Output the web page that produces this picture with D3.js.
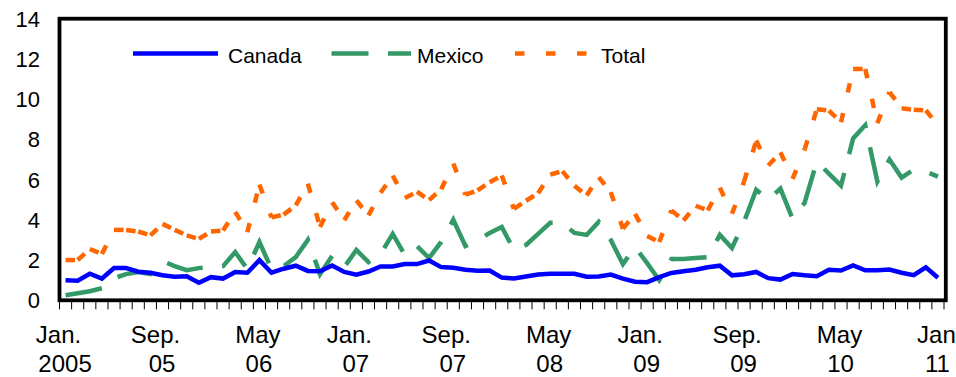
<!DOCTYPE html>
<html>
<head>
<meta charset="utf-8">
<script src="https://cdn.jsdelivr.net/npm/d3@7/dist/d3.min.js"></script>
<style>
  body { margin: 0; background: #fff; }
  svg text { font-family: "Liberation Sans", Arial, sans-serif; fill: #000; }
</style>
</head>
<body>
<div id="chart"></div>
<script>
////////////////////////////////////////////////////////////////////////
// Data: monthly values, Jan. 2005 to Jan. 2011 (73 months)

let months = d3.timeMonth.range(new Date(2005, 0, 1), new Date(2011, 1, 1));

let canada = [1.0, 0.97, 1.32, 1.08, 1.6, 1.6, 1.42, 1.37, 1.25, 1.17,
  1.19, 0.87, 1.15, 1.08, 1.41, 1.37, 2.0, 1.37, 1.57, 1.72,
  1.46, 1.44, 1.73, 1.41, 1.27, 1.43, 1.68, 1.68, 1.8, 1.8,
  1.98, 1.65, 1.62, 1.52, 1.47, 1.48, 1.13, 1.08, 1.18, 1.28,
  1.32, 1.32, 1.32, 1.17, 1.18, 1.28, 1.08, 0.92, 0.9, 1.15,
  1.36, 1.44, 1.52, 1.64, 1.72, 1.24, 1.3, 1.41, 1.1, 1.03,
  1.31, 1.24, 1.2, 1.52, 1.48, 1.73, 1.49, 1.49, 1.53, 1.37,
  1.25, 1.64, 1.12];

let mexico = [0.25, 0.35, 0.45, 0.6, 1.1, 1.3, 1.4, 1.3, 1.95, 1.7,
  1.5, 1.6, 1.65, 1.7, 2.4, 1.55, 2.9, 1.55, 1.7, 2.15,
  3.0, 1.3, 2.2, 1.65, 2.5, 1.9, 2.3, 3.3, 2.25, 2.7,
  2.1, 2.9, 4.0, 2.7, 2.95, 3.35, 3.65, 2.5, 2.75, 3.3,
  3.85, 3.85, 3.35, 3.25, 3.9, 3.0, 1.8, 2.65, 1.85, 1.0,
  2.05, 2.05, 2.1, 2.15, 3.25, 2.6, 3.9, 5.5, 5.0, 5.55,
  4.05, 4.85, 6.9, 6.3, 5.7, 8.05, 8.7, 5.9, 7.0, 6.1,
  6.5, 6.4, 6.15];

let total = [2.0, 2.0, 2.55, 2.3, 3.5, 3.5, 3.42, 3.23, 3.8, 3.5,
  3.23, 3.05, 3.42, 3.47, 4.4, 3.38, 5.75, 4.12, 4.26, 4.72,
  5.8, 3.64, 4.88, 3.98, 4.97, 4.22, 5.35, 6.2, 5.08, 5.4,
  4.98, 5.52, 6.8, 5.25, 5.46, 5.87, 6.2, 4.55, 4.95, 5.32,
  6.25, 6.42, 5.7, 5.21, 6.12, 5.38, 3.56, 4.3, 3.2, 2.9,
  4.47, 3.97, 4.7, 4.47, 5.6, 4.3, 5.9, 7.94, 6.7, 7.36,
  6.04, 7.5, 9.5, 9.43, 8.85, 11.5, 11.5, 8.8, 10.35, 9.55,
  9.47, 9.45, 8.7];

// x labels, one every 8 months (two lines each)
let tickLabels = [["Jan.", "2005"], ["Sep.", "05"], ["May", "06"], ["Jan.", "07"],
  ["Sep.", "07"], ["May", "08"], ["Jan.", "09"], ["Sep.", "09"], ["May", "10"], ["Jan", "11"]];
let yTicks = [0, 2, 4, 6, 8, 10, 12, 14];

let seriesNames = ["Canada", "Mexico", "Total"];

////////////////////////////////////////////////////////////////////////
// Layout

let width = 956, height = 377;
let plotLeft = 59.5, plotRight = 944, plotTop = 18.7, plotBottom = 300.3;

let svg = d3.select("#chart")
  .append("svg")
  .attr("width", width)
  .attr("height", height);

let xScale = d3.scalePoint()
  .domain(months)
  .range([plotLeft, plotRight])
  .padding(0.5);

let yScale = d3.scaleLinear()
  .domain([0, 14])
  .range([plotBottom, plotTop]);

let step = xScale.step();

// y labels (no tick marks)
svg.append("g")
  .attr("class", "y-labels")
  .selectAll("text")
  .data(yTicks)
  .enter()
  .append("text")
  .attr("x", 40)
  .attr("y", d => yScale(d))
  .attr("dy", "0.36em")
  .attr("text-anchor", "end")
  .style("font-size", "22px")
  .text(d => d);

// minor ticks at every month boundary
svg.append("g")
  .attr("class", "x-ticks")
  .selectAll("line")
  .data(d3.range(months.length + 1))
  .enter()
  .append("line")
  .attr("x1", i => plotLeft + i * step)
  .attr("x2", i => plotLeft + i * step)
  .attr("y1", plotBottom)
  .attr("y2", plotBottom + 9)
  .attr("stroke", "#000")
  .attr("stroke-width", 1);

// x labels
let xl = svg.append("g")
  .attr("class", "x-labels")
  .selectAll("text")
  .data(tickLabels)
  .enter()
  .append("text")
  .attr("text-anchor", "middle")
  .style("font-size", "24px");

xl.append("tspan")
  .attr("x", (d, i) => xScale(months[i * 8]) - (d[0].endsWith(".") ? 7 : 1.5))
  .attr("y", 343)
  .text(d => d[0]);

xl.append("tspan")
  .attr("x", (d, i) => xScale(months[i * 8]) - 0.5)
  .attr("y", 371.5)
  .text(d => d[1]);

////////////////////////////////////////////////////////////////////////
// Series

let line = d3.line()
  .x((d, i) => xScale(months[i]))
  .y(d => yScale(d));

// Total: short dash restarting at every point
svg.append("g")
  .attr("class", "total")
  .selectAll("line")
  .data(d3.pairs(total))
  .enter()
  .append("line")
  .attr("x1", (d, i) => xScale(months[i]))
  .attr("y1", d => yScale(d[0]))
  .attr("x2", (d, i) => xScale(months[i + 1]))
  .attr("y2", d => yScale(d[1]))
  .attr("stroke", "#ff6600")
  .attr("stroke-width", 4.5)
  .attr("stroke-dasharray", "9.5,21");

svg.append("path")
  .datum(mexico)
  .attr("d", line)
  .attr("fill", "none")
  .attr("stroke", "#339966")
  .attr("stroke-width", 4.5)
  .attr("stroke-dasharray", "37,19.5");

svg.append("path")
  .datum(canada)
  .attr("d", line)
  .attr("fill", "none")
  .attr("stroke", "#0000ff")
  .attr("stroke-width", 4.5);

// plot frame
svg.append("rect")
  .attr("x", plotLeft)
  .attr("y", plotTop)
  .attr("width", 945.8 - plotLeft)
  .attr("height", plotBottom - plotTop)
  .attr("fill", "none")
  .attr("stroke", "#000")
  .attr("stroke-width", 3.8);

////////////////////////////////////////////////////////////////////////
// Legend

let legendItems = [
  { name: seriesNames[0], x1: 133, x2: 218, tx: 228, color: "#0000ff", dash: null },
  { name: seriesNames[1], x1: 331.5, x2: 411, tx: 417, color: "#339966", dash: "37,19.5" },
  { name: seriesNames[2], x1: 515, x2: 588, tx: 601, color: "#ff6600", dash: "9.5,21.5" }
];

let legend = svg.append("g")
  .attr("class", "legend")
  .selectAll("g")
  .data(legendItems)
  .enter()
  .append("g");

legend.append("line")
  .attr("x1", d => d.x1)
  .attr("x2", d => d.x2)
  .attr("y1", 53.5)
  .attr("y2", 53.5)
  .attr("stroke", d => d.color)
  .attr("stroke-width", 4.5)
  .attr("stroke-dasharray", d => d.dash);

legend.append("text")
  .attr("x", d => d.tx)
  .attr("y", 63)
  .style("font-size", "21px")
  .text(d => d.name);
</script>
</body>
</html>
